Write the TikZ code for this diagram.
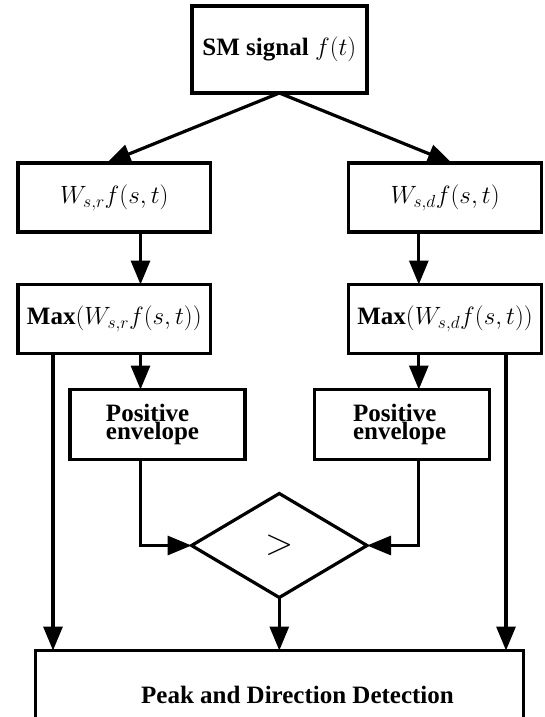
\RequirePackage{fix-cm}
\documentclass[tikz,border=0pt]{standalone}
\usepackage[no-math]{fontspec}
\setmainfont{Liberation Serif}
\usetikzlibrary{arrows.meta,shapes.geometric}
\tikzset{
  box/.style={draw, line width=3.2pt, rectangle, inner sep=0pt, outer sep=0pt,
    font=\fontsize{25}{27}\selectfont},
  envbox/.style={box, minimum width=175pt, minimum height=70pt, align=left,
    font=\fontsize{25}{17.5}\selectfont},
  arr/.style={line width=3.2pt, line join=miter, -{Triangle[length=24pt,width=19pt]}},
}
\begin{document}
\begin{tikzpicture}[x=1pt,y=-1pt]
\useasboundingbox (0,0) rectangle (544,717);
\clip (0,0) rectangle (544,717);
\node[box, minimum width=175pt, minimum height=87pt] (sig) at (279.4,49.5) {\textbf{SM signal} $f(t)$};
\node[box, minimum width=192.6pt, minimum height=69pt] (wr) at (114.3,197.5) {$W_{s,r}f(s,t)$};
\node[box, minimum width=193pt, minimum height=69pt] (wd) at (445.1,197.5) {$W_{s,d}f(s,t)$};
\node[box, minimum width=192.6pt, minimum height=69pt] (mr) at (114.3,319) {\textbf{Max}$(W_{s,r}f(s,t))$};
\node[box, minimum width=193pt, minimum height=69pt] (md) at (445.1,319) {\textbf{Max}$(W_{s,d}f(s,t))$};
\node[envbox] (pr) at (157.5,424.5) {\textbf{Positive}\\\textbf{envelope}\hspace*{10pt}};
\node[envbox] (pe) at (401.6,424.5) {\textbf{Positive}\\\textbf{envelope}\hspace*{4pt}};
\node[diamond, draw, line width=3.2pt, inner sep=0pt, outer sep=0pt,
  minimum width=175.5pt, minimum height=104pt,
  font=\fontsize{37}{40}\selectfont] (dia) at (279.3,545.5) {$>$};
\node[box, minimum width=487.5pt, minimum height=89pt] (pd) at (279.5,695)
  {\hspace*{36pt}\textbf{Peak and Direction Detection}};
\draw[arr] (sig.south) -- ([xshift=-7.6pt]wr.north);
\draw[arr] (sig.south) -- ([xshift=6.6pt]wd.north);
\draw[arr] ([xshift=26.2pt]wr.south) -- ([xshift=26.2pt]mr.north);
\draw[arr] ([xshift=-26.3pt]wd.south) -- ([xshift=-26.3pt]md.north);
\draw[arr] ([xshift=26.2pt]mr.south) -- ([xshift=26.2pt]mr.south |- pr.north);
\draw[arr] ([xshift=-26.3pt]md.south) -- ([xshift=-26.3pt]md.south |- pe.north);
\draw[arr] ([xshift=26.2pt]mr.south |- pr.south) |- (dia.west);
\draw[arr] ([xshift=-26.3pt]md.south |- pe.south) |- (dia.east);
\draw[arr] (dia.south) -- (dia.south |- pd.north);
\draw[arr] ([xshift=-61.3pt]mr.south) -- ([xshift=-61.3pt]mr.south |- pd.north);
\draw[arr] ([xshift=60.9pt]md.south) -- ([xshift=60.9pt]md.south |- pd.north);
\end{tikzpicture}
\end{document}
